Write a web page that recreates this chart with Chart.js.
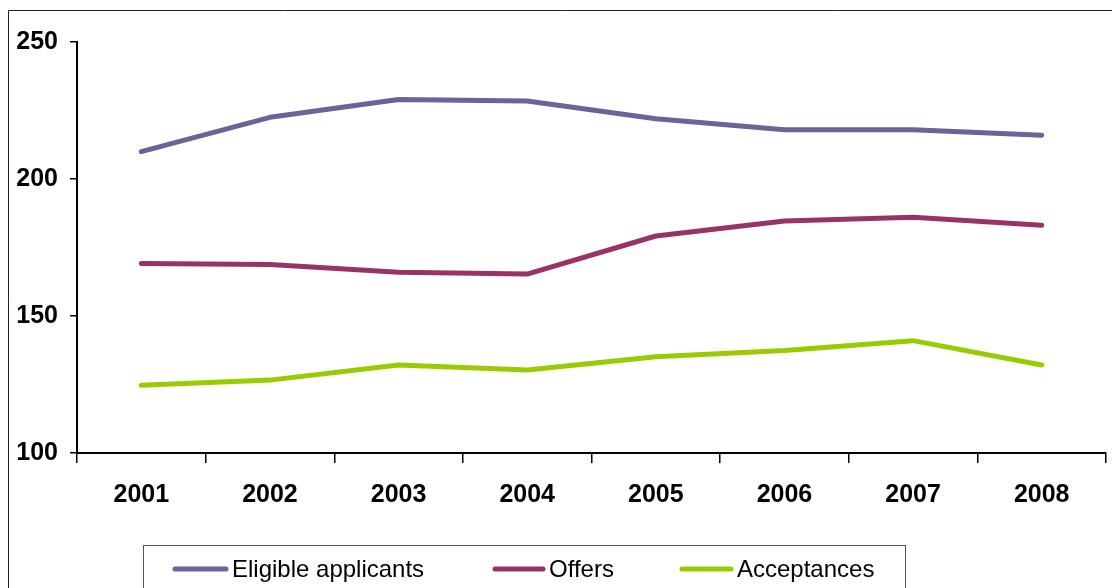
<!DOCTYPE html>
<html>
<head>
<meta charset="utf-8">
<title>Applicants, offers and acceptances 2001-2008</title>
<script src="https://cdn.jsdelivr.net/npm/chart.js@4.4.0/dist/chart.umd.min.js"></script>
<style>
  html, body { margin: 0; padding: 0; background: #fff; }
  #wrap { position: relative; width: 1112px; height: 588px; overflow: hidden; }
</style>
</head>
<body>
<div id="wrap"><canvas id="admChart" width="1112" height="588"></canvas></div>
<script>
// yearly figures
const years = ["2001", "2002", "2003", "2004", "2005", "2006", "2007", "2008"];
const eligible = [210, 222.5, 229, 228.5, 222, 218, 218, 216];
const offers = [169.2, 168.8, 166, 165.3, 179.2, 184.7, 186, 183.1];
const acceptances = [124.7, 126.6, 132.1, 130.3, 135.1, 137.4, 141, 132.1];

const seriesNames = ["Eligible applicants", "Offers", "Acceptances"];
const seriesColors = ["#666699", "#993366", "#99CC00"];

// outer frame of the chart object
const framePlugin = {
  id: "frame",
  beforeDraw(chart) {
    const ctx = chart.ctx;
    ctx.save();
    ctx.fillStyle = "#fff";
    ctx.fillRect(0, 0, chart.width, chart.height);
    ctx.strokeStyle = "#222";
    ctx.lineWidth = 1;
    ctx.beginPath();
    ctx.moveTo(8.5, chart.height);
    ctx.lineTo(8.5, 10.5);
    ctx.lineTo(chart.width, 10.5);
    ctx.stroke();
    ctx.restore();
  }
};

// boxed legend under the axis
const boxLegend = {
  id: "boxLegend",
  afterDraw(chart) {
    const ctx = chart.ctx;
    const slots = [{ x: 173, w: 55 }, { x: 493, w: 52 }, { x: 680, w: 53 }];
    const y = 569;
    ctx.save();
    ctx.strokeStyle = "#555";
    ctx.lineWidth = 1;
    ctx.strokeRect(143.5, 545.5, 762, 80);
    ctx.font = "24px 'Liberation Sans', Arial, sans-serif";
    ctx.textBaseline = "middle";
    ctx.fillStyle = "#000";
    chart.data.datasets.forEach((ds, i) => {
      const s = slots[i];
      ctx.strokeStyle = ds.borderColor;
      ctx.lineWidth = 5;
      ctx.lineCap = "round";
      ctx.beginPath();
      ctx.moveTo(s.x + 2, y);
      ctx.lineTo(s.x + s.w - 2, y);
      ctx.stroke();
      ctx.fillText(ds.label, s.x + s.w + 4, y + 1);
    });
    ctx.restore();
  }
};

const seriesData = [eligible, offers, acceptances];
const tickFont = { family: "'Liberation Sans', Arial, sans-serif", size: 25, weight: "bold" };

new Chart(document.getElementById("admChart"), {
  type: "line",
  data: {
    labels: years,
    datasets: seriesData.map((d, i) => ({
      label: seriesNames[i],
      data: d,
      borderColor: seriesColors[i],
      backgroundColor: seriesColors[i],
      borderWidth: 5,
      borderCapStyle: "round",
      borderJoinStyle: "round",
      pointRadius: 0,
      tension: 0,
      fill: false
    }))
  },
  options: {
    responsive: false,
    animation: false,
    devicePixelRatio: 1,
    layout: { padding: { top: 42, right: 6, bottom: 85, left: 0 } },
    plugins: {
      legend: { display: false },
      tooltip: { enabled: false }
    },
    scales: {
      x: {
        offset: true,
        grid: { offset: true, drawOnChartArea: false, drawTicks: true, tickLength: 10, color: "#000", lineWidth: 1.5 },
        border: { display: true, color: "#000", width: 2 },
        ticks: { color: "#000", padding: 17, maxRotation: 0, font: tickFont },
        afterFit(scale) { scale.height = 50; }
      },
      y: {
        min: 100,
        max: 250,
        grid: { drawOnChartArea: false, drawTicks: true, tickLength: 7, color: "#000", lineWidth: 1.5 },
        border: { display: true, color: "#000", width: 2 },
        ticks: { stepSize: 50, color: "#000", padding: 12, font: tickFont },
        afterFit(scale) { scale.width = 77; }
      }
    }
  },
  plugins: [framePlugin, boxLegend]
});
</script>
</body>
</html>
